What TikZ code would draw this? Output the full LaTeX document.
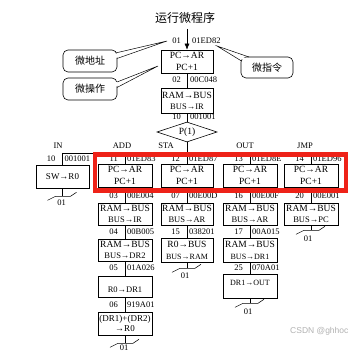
\documentclass[tikz,border=0pt]{standalone}
\usepackage{fontspec}
\setmainfont{Liberation Serif}
\newfontfamily\cjk{Noto Sans CJK SC}
\newfontfamily\wmfont{Liberation Sans}
\usetikzlibrary{shapes.geometric,arrows.meta}
\definecolor{redbox}{RGB}{238,34,24}
\begin{document}
\begin{tikzpicture}[x=1pt,y=-1pt,
  box/.style={draw,line width=0.6pt,inner sep=0pt,align=center,font=\fontsize{9.5}{12}\selectfont},
  boxs/.style={box,font=\fontsize{9.5}{11}\selectfont},
  lbl/.style={inner sep=0pt,font=\fontsize{8.5}{9}\selectfont},
  ln/.style={line width=0.6pt},
  tl/.style={line width=0.5pt},
  callout/.style={draw,line width=0.6pt,rounded corners=5pt,fill=white,minimum width=54pt,minimum height=22pt,inner sep=0pt,font=\cjk\fontsize{10}{11}\selectfont}]
\useasboundingbox (0,0) rectangle (354,352);
\fill[white] (0,0) rectangle (354,352);

% title and top chain
\node[font=\cjk\fontsize{12}{14}\selectfont,inner sep=0pt] (title) at (185,18) {运行微程序};
\node[box,minimum width=52pt,minimum height=23pt] (b1) at (187,61.5) {PC→AR\\PC+1};
\coordinate (t0) at (187,29);
\draw[ln,-{Latex[length=6pt,width=5pt]}] (t0) -- (b1.north);
\node[lbl,anchor=east] (l01) at (181,41) {01};
\node[lbl,anchor=west] (c01) at (192,41) {01ED82};
\node[boxs,minimum width=52pt,minimum height=25pt] (b2) at (187,100.5) {RAM→BUS\\{\fontsize{8.5}{9}\selectfont BUS→IR}};
\node[lbl,anchor=east] (l02) at (181,80) {02};
\node[lbl,anchor=west] (c02) at (190,80) {00C048};
\node[lbl,anchor=east] (l10) at (181,117) {10};
\node[lbl,anchor=west] (c10) at (190,117) {001001};
\node[draw,diamond,aspect=3,line width=0.6pt,minimum width=60pt,minimum height=20pt,inner sep=0pt,font=\fontsize{9.5}{10}\selectfont] (p) at (187,132) {P(1)};
\draw[ln] (b1) -- (b2);
\draw[ln] (b2) -- (p);
\coordinate (j) at (187,153);
\coordinate (jl) at (62.5,153);
\coordinate (jr) at (311,153);
\draw[ln] (p.south) -- (j);
\draw[ln] (jl) -- (jr);

% column headings
\node[lbl] (hin) at (58,146) {IN};
\node[lbl] (had) at (122,146) {ADD};
\node[lbl] (hst) at (166,146) {STA};
\node[lbl] (hou) at (245,146) {OUT};
\node[lbl] (hjm) at (305,146) {JMP};

% row 1
\node[box,font=\fontsize{9}{10}\selectfont,minimum width=53pt,minimum height=23pt] (in1) at (62.5,176.5) {SW→R0};
\node[box,minimum width=54pt,minimum height=23.5pt] (ad1) at (125,175.75) {PC→AR\\PC+1};
\node[box,minimum width=52pt,minimum height=23.5pt] (st1) at (187,175.75) {PC→AR\\PC+1};
\node[box,minimum width=54pt,minimum height=23.5pt] (ou1) at (250,175.75) {PC→AR\\PC+1};
\node[box,minimum width=54pt,minimum height=23.5pt] (jm1) at (311,175.75) {PC→AR\\PC+1};
\draw[ln] (jl) -- (in1.north);
\draw[ln] (ad1.north |- j) -- (ad1.north);
\draw[ln] (j) -- (st1.north);
\draw[ln] (ou1.north |- j) -- (ou1.north);
\draw[ln] (jr) -- (jm1.north);
\node[lbl,anchor=east] (l10b) at (55.5,159) {10};
\node[lbl,anchor=west] (c10b) at (64.5,159) {001001};
\node[lbl,anchor=east] (l11) at (118,159) {11};
\node[lbl,anchor=west] (c11) at (127,159) {01ED83};
\node[lbl,anchor=east] (l12) at (180,159) {12};
\node[lbl,anchor=west] (c12) at (189,159) {01ED87};
\node[lbl,anchor=east] (l13) at (243,159) {13};
\node[lbl,anchor=west] (c13) at (252,159) {01ED8E};
\node[lbl,anchor=east] (l14) at (304,159) {14};
\node[lbl,anchor=west] (c14) at (313,159) {01ED96};

% row 2
\node[boxs,minimum width=54pt,minimum height=22pt] (ad2) at (125,214) {RAM→BUS\\{\fontsize{8.5}{9}\selectfont BUS→IR}};
\node[boxs,minimum width=52pt,minimum height=22pt] (st2) at (187,214) {RAM→BUS\\{\fontsize{8.5}{9}\selectfont BUS→AR}};
\node[boxs,minimum width=54pt,minimum height=22pt] (ou2) at (250,214) {RAM→BUS\\{\fontsize{8.5}{9}\selectfont BUS→AR}};
\node[boxs,minimum width=54pt,minimum height=22pt] (jm2) at (311,214) {RAM→BUS\\{\fontsize{8.5}{9}\selectfont BUS→PC}};
\draw[ln] (ad1) -- (ad2);
\draw[ln] (st1) -- (st2);
\draw[ln] (ou1) -- (ou2);
\draw[ln] (jm1) -- (jm2);
\node[lbl,anchor=east] (l03) at (118,196) {03};
\node[lbl,anchor=west] (c03) at (127,196) {00E004};
\node[lbl,anchor=east] (l07) at (180,196) {07};
\node[lbl,anchor=west] (c07) at (189,196) {00E00D};
\node[lbl,anchor=east] (l16) at (243,196) {16};
\node[lbl,anchor=west] (c16) at (252,196) {00E00F};
\node[lbl,anchor=east] (l20) at (304,196) {20};
\node[lbl,anchor=west] (c20) at (313,196) {00E001};

% row 3
\node[boxs,minimum width=54pt,minimum height=22pt] (ad3) at (125,250) {RAM→BUS\\{\fontsize{8.5}{9}\selectfont BUS→DR2}};
\node[box,minimum width=52pt,minimum height=24pt] (st3) at (187,250) {R0→BUS\\{\fontsize{8}{9}\selectfont BUS→RAM}};
\node[box,minimum width=54pt,minimum height=24pt] (ou3) at (250,250) {RAM→BUS\\{\fontsize{8}{9}\selectfont BUS→DR1}};
\draw[ln] (ad2) -- (ad3);
\draw[ln] (st2) -- (st3);
\draw[ln] (ou2) -- (ou3);
\node[lbl,anchor=east] (l04) at (118,232) {04};
\node[lbl,anchor=west] (c04) at (127,232) {00B005};
\node[lbl,anchor=east] (l15) at (180,232) {15};
\node[lbl,anchor=west] (c15) at (189,232) {038201};
\node[lbl,anchor=east] (l17) at (243,232) {17};
\node[lbl,anchor=west] (c17) at (252,232) {00A015};

% row 4
\node[box,minimum width=54pt,minimum height=21pt] (ad4) at (125,286.5) {};
\node[inner sep=0pt,font=\fontsize{8.5}{9}\selectfont] (ad4t) at (125,289.5) {R0→DR1};
\node[box,minimum width=54pt,minimum height=24pt] (ou4) at (250,286) {};
\node[inner sep=0pt,font=\fontsize{8}{9}\selectfont] (ou4t) at (250,283) {DR1→OUT};
\draw[ln] (ad3) -- (ad4);
\draw[ln] (ou3) -- (ou4);
\node[lbl,anchor=east] (l05) at (118,268) {05};
\node[lbl,anchor=west] (c05) at (127,268) {01A026};
\node[lbl,anchor=east] (l25) at (243,268) {25};
\node[lbl,anchor=west] (c25) at (252,268) {070A01};

% row 5
\node[box,font=\fontsize{9}{10}\selectfont,minimum width=54pt,minimum height=23pt] (ad5) at (125,323.5) {(DR1)+(DR2)\\→R0};
\draw[ln] (ad4) -- (ad5);
\node[lbl,anchor=east] (l06) at (118,304.5) {06};
\node[lbl,anchor=west] (c06) at (127,304.5) {919A01};

% return marks "01"
\draw[ln] (in1.south) -- ++(0,8) coordinate (tin);
\draw[tl] ([shift={(-15,4)}]tin) -- ++(8,-4) -- ++(15,0) -- ++(6,-4);
\node[lbl] (rin) at ([shift={(-1,6)}]tin) {01};
\draw[ln] (ad5.south) -- ++(0,8) coordinate (tad);
\draw[tl] ([shift={(-15,4)}]tad) -- ++(8,-4) -- ++(15,0) -- ++(6,-4);
\node[lbl] (rad) at ([shift={(-1,4)}]tad) {01};
\draw[ln] (st3.south) -- ++(0,6) coordinate (tst);
\draw[tl] ([shift={(-15,4)}]tst) -- ++(8,-4) -- ++(15,0) -- ++(6,-4);
\node[lbl] (rst) at ([shift={(-2,7)}]tst) {01};
\draw[ln] (ou4.south) -- ++(0,5) coordinate (tou);
\draw[tl] ([shift={(-15,4)}]tou) -- ++(8,-4) -- ++(15,0) -- ++(6,-4);
\node[lbl] (rou) at ([shift={(-2,8)}]tou) {01};
\draw[ln] (jm2.south) -- ++(0,5) coordinate (tjm);
\draw[tl] ([shift={(-15,4)}]tjm) -- ++(8,-4) -- ++(15,0) -- ++(6,-4);
\node[lbl] (rjm) at ([shift={(-3,8)}]tjm) {01};

% callouts
\node[callout] (k1) at (90,61) {微地址};
\node[callout] (k2) at (90,89) {微操作};
\node[callout,minimum width=52pt,minimum height=21pt] (k3) at (267,67.5) {微指令};
\coordinate (k1t) at (167,41);
\coordinate (k2t) at (158,66);
\coordinate (k3t) at (217,46);
\fill[white] (114,54) -- (k1t) -- (114,58.5) -- cycle;
\draw[tl] (115.5,53) -- (k1t) -- (117,58.5);
\fill[white] (114,83) -- (k2t) -- (114,87.5) -- cycle;
\draw[tl] (117,82) -- (k2t) -- (117,87.5);
\fill[white] (243.5,60) -- (k3t) -- (249,59.5) -- cycle;
\draw[tl] (241.5,61) -- (k3t) -- (249,57);

% highlight
\draw[line width=4.8pt,redbox] (95,154.5) rectangle (346,190.5);

% watermark
\node[anchor=west,inner sep=0pt,font=\wmfont\fontsize{8.5}{9}\selectfont,text=black!30] (wm) at (290,331) {CSDN @ghhoc};
\end{tikzpicture}
\end{document}
